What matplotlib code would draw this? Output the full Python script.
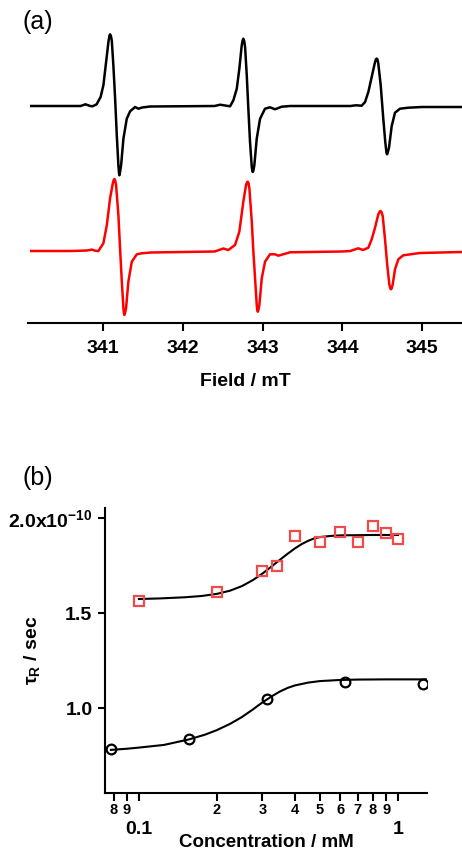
import matplotlib
matplotlib.use("Agg")
from matplotlib import pyplot as plt
from matplotlib.ticker import FixedLocator, FixedFormatter
import numpy as np

plt.rcParams['font.family'] = ['Liberation Sans', 'DejaVu Sans']
plt.rcParams['mathtext.fontset'] = 'custom'
plt.rcParams['mathtext.rm'] = 'Liberation Sans:bold'
plt.rcParams['mathtext.it'] = 'Liberation Sans:bold'
plt.rcParams['mathtext.bf'] = 'Liberation Sans:bold'

# (a) EPR spectra (field in mT, intensity in arb. units)
black_field = [340.10, 340.59, 340.72, 340.78, 340.84, 340.87, 340.92, 340.97, 341.005,
               341.039, 341.068, 341.080, 341.089, 341.099, 341.110, 341.130, 341.152,
               341.173, 341.193, 341.201, 341.206, 341.212, 341.227, 341.256, 341.298,
               341.340, 341.402, 341.444, 341.49, 341.59,
               342.40, 342.467, 342.53, 342.593, 342.634, 342.677, 342.709, 342.739,
               342.750, 342.759, 342.769, 342.781, 342.802, 342.822, 342.843, 342.865,
               342.872, 342.877, 342.884, 342.897, 342.927, 342.969, 343.031, 343.093,
               343.156, 343.24, 343.35,
               344.10, 344.17, 344.243, 344.285, 344.326, 344.368, 344.410, 344.422,
               344.431, 344.441, 344.451, 344.481, 344.514, 344.539, 344.553, 344.560,
               344.568, 344.585, 344.619, 344.660, 344.723, 344.827, 345.0, 345.5]
black_int = [0, 0, 0, 1.7, 0, -0.3, 1.7, 9, 20.7,
             44, 64, 70, 71.7, 70, 65.7, 40.7, 7.4,
             -29.3, -59.3, -67, -69.3, -67, -59.3, -32.7, -12.7,
             -5.3, -1, -2.7, -1.5, -0.5,
             0, 1.3, 0.5, -0.3, 5.7, 17.3, 37.3, 60.7,
             65.5, 67.3, 65.5, 59, 30.7, -2.7, -36, -61,
             -65, -66, -65, -59.3, -32.7, -12.7, -2.7, -1.3,
             -3.3, -0.7, 0,
             0, 0.7, 0.3, 4, 14, 29, 44, 46.8,
             47.4, 46.5, 42.4, 20.7, -13.3, -36.7, -46.5, -48.3,
             -47, -41.7, -20, -6.7, -2.7, -1.7, -1, -1]

red_field = [340.10, 340.60, 340.80, 340.86, 340.90, 340.942, 341.005, 341.048, 341.089,
             341.123, 341.134, 341.143, 341.153, 341.164, 341.193, 341.214, 341.236,
             341.256, 341.263, 341.268, 341.275, 341.289, 341.318, 341.361, 341.424,
             341.486, 341.60, 342.40,
             342.509, 342.571, 342.655, 342.709, 342.759, 342.793, 342.805, 342.815,
             342.825, 342.835, 342.865, 342.885, 342.906, 342.927, 342.934, 342.940,
             342.947, 342.960, 342.990, 343.031, 343.093, 343.156, 343.198, 343.345,
             344.0, 344.10,
             344.200, 344.26, 344.326, 344.368, 344.410, 344.451, 344.470, 344.481,
             344.493, 344.506, 344.535, 344.564, 344.589, 344.602, 344.610, 344.618,
             344.632, 344.660, 344.702, 344.764, 344.973, 345.5]
red_int = [0, 0, 0.5, 1.4, 0.3, 0, 7.7, 26, 52.7,
           67.7, 71, 72, 70.5, 66, 36, 2.7, -30.7,
           -57.3, -62.5, -64, -62.5, -57.3, -30.7, -10.7, -3.3,
           -2.3, -1.5, -0.5,
           2.5, 1, 6, 19.3, 49.3, 66, 68.8, 69.3,
           67.5, 62.7, 29.3, -0.7, -27.3, -54, -59.5, -60.7,
           -59.5, -54, -27.3, -10.7, -3.3, -3.3, -4.7, -1.3,
           -0.5, 0,
           2.7, 1, 3.3, 11.7, 23.3, 36.7, 39.5, 40,
           38.5, 35, 11.7, -15, -33.3, -37.5, -38.3, -37.5,
           -33.3, -18.3, -8.3, -4.3, -2, -1]

# (b) rotational correlation time (units of 1e-10 s) vs concentration (mM)
conc_red = [0.1, 0.2, 0.3, 0.34, 0.4, 0.5, 0.6, 0.7, 0.8, 0.9, 1.0]
tau_red = [1.563, 1.611, 1.721, 1.749, 1.907, 1.874, 1.925, 1.874, 1.960, 1.923, 1.889]
fit_red_x = [0.1, 0.12, 0.15, 0.175, 0.2, 0.225, 0.25, 0.275, 0.3, 0.325, 0.35,
             0.375, 0.4, 0.425, 0.45, 0.475, 0.5, 0.55, 0.6, 0.7, 0.8, 1.0]
fit_red_y = [1.574, 1.577, 1.583, 1.590, 1.601, 1.618, 1.642, 1.673, 1.708, 1.745, 1.780,
             1.812, 1.840, 1.863, 1.880, 1.893, 1.900, 1.906, 1.909, 1.910, 1.911, 1.911]

conc_blk = [0.078, 0.156, 0.3125, 0.625, 1.25]
tau_blk = [0.783, 0.835, 1.047, 1.138, 1.126]
fit_blk_x = [0.078, 0.09, 0.1, 0.125, 0.156, 0.18, 0.2, 0.225, 0.25, 0.275, 0.3, 0.325,
             0.35, 0.375, 0.4, 0.45, 0.5, 0.6, 0.7, 0.9, 1.29]
fit_blk_y = [0.780, 0.786, 0.792, 0.806, 0.835, 0.860, 0.884, 0.917, 0.953, 0.992, 1.030,
             1.061, 1.087, 1.106, 1.119, 1.134, 1.142, 1.148, 1.150, 1.151, 1.151]

minor_ticks = [0.08, 0.09, 0.2, 0.3, 0.4, 0.5, 0.6, 0.7, 0.8, 0.9]
minor_labels = ['8', '9', '2', '3', '4', '5', '6', '7', '8', '9']

W, H = 462, 850
fig = plt.figure(figsize=(W / 100, H / 100), dpi=100)

# ---- panel (a)
ax1 = fig.add_axes([28 / W, 1 - 323 / H, 434 / W, 303 / H])
ax1.plot(black_field, np.array(black_int) + 217, color='black', lw=1.8)
ax1.plot(red_field, np.array(red_int) + 72, color='red', lw=1.8)
ax1.set_xlim(340.06, 345.5)
ax1.set_ylim(0, 303)
for s in ['left', 'top', 'right']:
    ax1.spines[s].set_visible(False)
ax1.spines['bottom'].set_linewidth(1.5)
ax1.set_yticks([])
ax1.set_xticks([341, 342, 343, 344, 345])
ax1.tick_params(axis='x', length=5.5, width=1.5, pad=7, labelsize=14)
for lab in ax1.get_xticklabels():
    lab.set_fontweight('bold')
ax1.set_xlabel('Field / mT', fontsize=14, fontweight='bold', labelpad=11)

# ---- panel (b)
ax2 = fig.add_axes([105 / W, 1 - 793 / H, 322 / W, 285 / H])
ax2.set_xscale('log')
ax2.plot(fit_red_x, fit_red_y, color='black', lw=1.5)
ax2.plot(conc_red, tau_red, 's', ms=7, mfc='none', mec='#f04a4a', mew=1.6)
ax2.plot(fit_blk_x, fit_blk_y, color='black', lw=1.5)
ax2.plot(conc_blk, tau_blk, 'o', ms=7, mfc='none', mec='black', mew=1.6)
ax2.set_xlim(0.074, 1.295)
ax2.set_ylim(0.553, 2.053)
for s in ['top', 'right']:
    ax2.spines[s].set_visible(False)
for s in ['left', 'bottom']:
    ax2.spines[s].set_linewidth(1.5)

ax2.xaxis.set_major_locator(FixedLocator([0.1, 1.0]))
ax2.xaxis.set_major_formatter(FixedFormatter(['0.1', '1']))
ax2.xaxis.set_minor_locator(FixedLocator(minor_ticks))
ax2.xaxis.set_minor_formatter(FixedFormatter(minor_labels))
ax2.tick_params(axis='x', which='major', length=6, width=1.5, pad=14, labelsize=14)
ax2.tick_params(axis='x', which='minor', length=6, width=1.5, pad=1.5, labelsize=10.5)
for lab in ax2.get_xticklabels(which='both'):
    lab.set_fontweight('bold')

ax2.set_yticks([1.0, 1.5, 2.0])
ax2.set_yticklabels(['1.0', '1.5', r'2.0x10$^{\mathregular{-10}}$'])
ax2.tick_params(axis='y', length=5, width=1.5, pad=4, labelsize=14)
for lab in ax2.get_yticklabels():
    lab.set_fontweight('bold')

ax2.set_xlabel('Concentration / mM', fontsize=13.5, fontweight='bold', labelpad=-3)
ax2.set_ylabel(r'$\tau_\mathregular{R}$ / sec', fontsize=14, fontweight='bold')
ax2.yaxis.set_label_coords(-0.195, 0.5)

fig.text(22 / W, 1 - 22 / H, '(a)', fontsize=18, va='center', ha='left')
fig.text(22 / W, 1 - 478 / H, '(b)', fontsize=18, va='center', ha='left')

fig.savefig('out.png', dpi=100)
